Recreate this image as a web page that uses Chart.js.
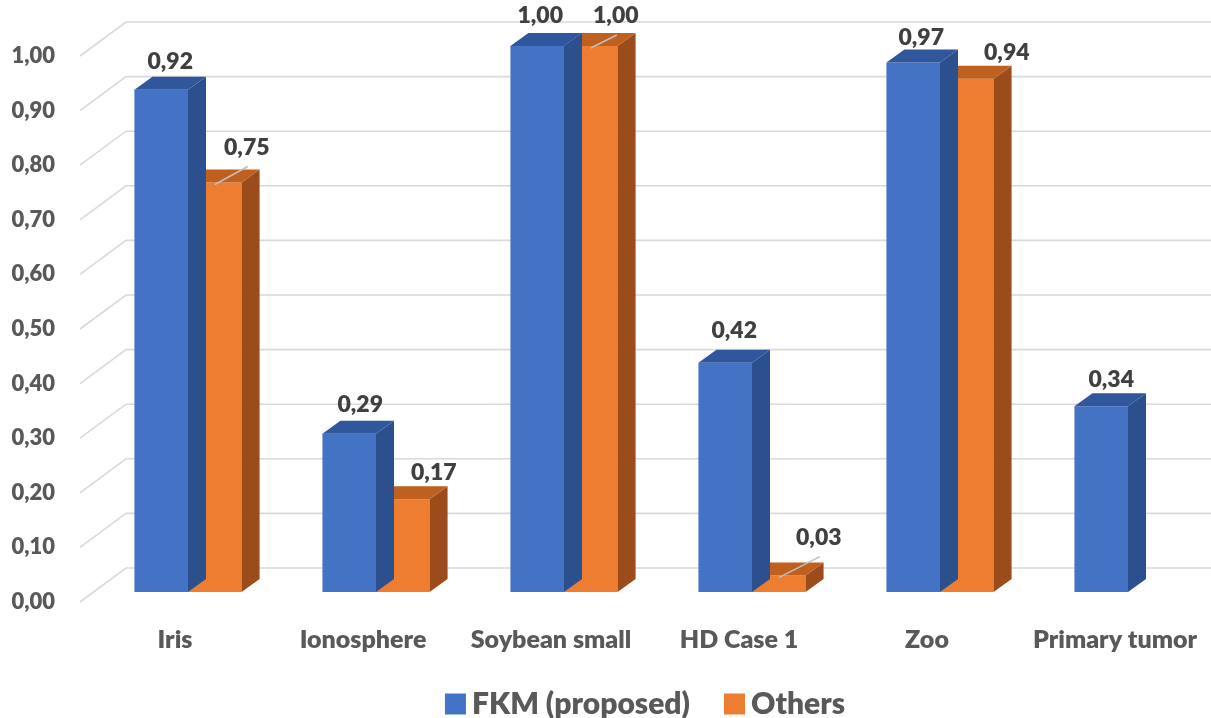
<!DOCTYPE html>
<html>
<head>
<meta charset="utf-8">
<script src="https://cdn.jsdelivr.net/npm/chart.js@4/dist/chart.umd.min.js"></script>
<style>
  html, body { margin: 0; padding: 0; background: #ffffff; }
  #wrap { width: 1211px; height: 718px; position: relative; }
</style>
</head>
<body>
<div id="wrap"><canvas id="chart"></canvas></div>
<script>
// Datasets and their scores
const categories = ['Iris', 'Ionosphere', 'Soybean small', 'HD Case 1', 'Zoo', 'Primary tumor'];
const seriesNames = ['FKM (proposed)', 'Others'];
const fkmValues = [0.92, 0.29, 1.00, 0.42, 0.97, 0.34];
const otherValues = [0.75, 0.17, 1.00, 0.03, 0.94, null];
const yTickValues = [0, 0.1, 0.2, 0.3, 0.4, 0.5, 0.6, 0.7, 0.8, 0.9, 1.0];

const FONT = 'Lato, "Open Sans", sans-serif';
const WEIGHT = 800;
const fmt = v => v.toFixed(2).replace('.', ',');

// Pseudo-3D look: bars sit slightly behind the axis plane, the wall further back
const BAR_SHIFT = { dx: 13, dy: -10 };
const BAR_DEPTH = { dx: 18, dy: -13 };
const WALL = { dx: 46, dy: -34 };

const depthPlugin = {
  id: 'depth3d',
  beforeDatasetsDraw(chart) {
    const { ctx, chartArea, scales: { y } } = chart;
    ctx.save();
    ctx.strokeStyle = '#d9d9d9';
    ctx.lineWidth = 1.6;
    yTickValues.forEach(v => {
      const py = y.getPixelForValue(v);
      const x0 = chartArea.left - 1;
      ctx.beginPath();
      ctx.moveTo(x0, py);
      ctx.lineTo(x0 + WALL.dx, py + WALL.dy);
      ctx.lineTo(chart.width, py + WALL.dy);
      ctx.stroke();
    });
    ctx.restore();
    ctx.save();
    ctx.translate(BAR_SHIFT.dx, BAR_SHIFT.dy);
  },
  afterDatasetDraw(chart, args, opts) {
    const { ctx } = chart;
    const faces = opts.faces[args.index];
    const values = chart.data.datasets[args.index].data;
    args.meta.data.forEach((bar, i) => {
      if (values[i] == null) return;
      const { x, y, base, width } = bar.getProps(['x', 'y', 'base', 'width'], true);
      const l = x - width / 2, r = x + width / 2;
      ctx.fillStyle = faces.side;
      ctx.beginPath();
      ctx.moveTo(r, y);
      ctx.lineTo(r + BAR_DEPTH.dx, y + BAR_DEPTH.dy);
      ctx.lineTo(r + BAR_DEPTH.dx, base + BAR_DEPTH.dy);
      ctx.lineTo(r, base);
      ctx.closePath();
      ctx.fill();
      ctx.fillStyle = faces.top;
      ctx.beginPath();
      ctx.moveTo(l, y);
      ctx.lineTo(l + BAR_DEPTH.dx, y + BAR_DEPTH.dy);
      ctx.lineTo(r + BAR_DEPTH.dx, y + BAR_DEPTH.dy);
      ctx.lineTo(r, y);
      ctx.closePath();
      ctx.fill();
    });
  },
  afterDatasetsDraw(chart, args, opts) {
    const { ctx } = chart;
    ctx.font = WEIGHT + ' 23px ' + FONT;
    ctx.textAlign = 'center';
    ctx.textBaseline = 'middle';
    chart.data.datasets.forEach((ds, di) => {
      const meta = chart.getDatasetMeta(di);
      const nudges = opts.labelNudges[di];
      meta.data.forEach((bar, i) => {
        const v = ds.data[i];
        if (v == null) return;
        const { x, y } = bar.getProps(['x', 'y'], true);
        const n = nudges[i];
        const lx = x + n[0], ly = y + n[1];
        if (n[2]) {
          ctx.strokeStyle = '#bfbfbf';
          ctx.lineWidth = 1.5;
          ctx.beginPath();
          ctx.moveTo(x, y + 2);
          ctx.lineTo(lx + 1, ly + 19);
          ctx.stroke();
        }
        ctx.fillStyle = '#404040';
        ctx.fillText(fmt(v), lx, ly);
      });
    });
    ctx.restore();
  },
  // series key, centred under the plot area
  afterDraw(chart, args, opts) {
    const { ctx, chartArea } = chart;
    const L = opts.legend;
    ctx.save();
    ctx.font = WEIGHT + ' ' + L.fontSize + 'px ' + FONT;
    ctx.textBaseline = 'middle';
    ctx.textAlign = 'left';
    const items = chart.data.datasets.map(ds => ({
      text: ds.label, color: ds.backgroundColor, w: ctx.measureText(ds.label).width
    }));
    const total = items.reduce((s, it) => s + L.box + L.gap + it.w, 0) + L.spacing * (items.length - 1);
    let x = (chartArea.left + chartArea.right) / 2 - total / 2;
    items.forEach(it => {
      ctx.fillStyle = it.color;
      ctx.fillRect(x, L.y - L.box / 2, L.box, L.box);
      ctx.fillStyle = '#595959';
      ctx.fillText(it.text, x + L.box + L.gap, L.y);
      x += L.box + L.gap + it.w + L.spacing;
    });
    ctx.restore();
  }
};

new Chart(document.getElementById('chart'), {
  type: 'bar',
  data: {
    labels: categories,
    datasets: [
      { label: seriesNames[0], data: fkmValues, backgroundColor: '#4472c4' },
      { label: seriesNames[1], data: otherValues, backgroundColor: '#ed7d31' }
    ]
  },
  options: {
    responsive: true,
    maintainAspectRatio: false,
    animation: false,
    layout: { padding: { top: 56, right: 2, left: 0, bottom: 38 } },
    datasets: { bar: { categoryPercentage: 0.57, barPercentage: 1, clip: false } },
    scales: {
      x: {
        grid: { display: false, drawTicks: false },
        border: { display: false },
        // tall line box drops the category names below the floor without widening the side margins
        ticks: { color: '#595959', font: { family: FONT, size: 25, weight: WEIGHT, lineHeight: '76px' }, padding: 0, maxRotation: 0 },
        afterFit(scale) { scale.height = 78; }
      },
      y: {
        min: 0,
        max: 1,
        grid: { display: false, drawTicks: false },
        border: { display: false },
        afterBuildTicks(scale) { scale.ticks = yTickValues.map(v => ({ value: v })); },
        ticks: {
          color: '#595959',
          font: { family: FONT, size: 22, weight: WEIGHT },
          padding: 26,
          callback: v => fmt(v)
        },
        afterFit(scale) { scale.width = 81; }
      }
    },
    plugins: {
      tooltip: { enabled: false },
      legend: { display: false },
      depth3d: {
        faces: [
          { side: '#2c4f8e', top: '#30569b' },
          { side: '#9c4c1a', top: '#c0601f' }
        ],
        labelNudges: [
          [[9, -28], [11, -29], [3, -30], [9, -32], [8, -25], [10, -27]],
          [[32, -35, true], [31, -27], [25, -30, true], [40, -38, true], [40, -26], null]
        ],
        legend: { y: 704, box: 21, gap: 6, spacing: 34, fontSize: 30 }
      }
    }
  },
  plugins: [depthPlugin]
});
</script>
</body>
</html>
